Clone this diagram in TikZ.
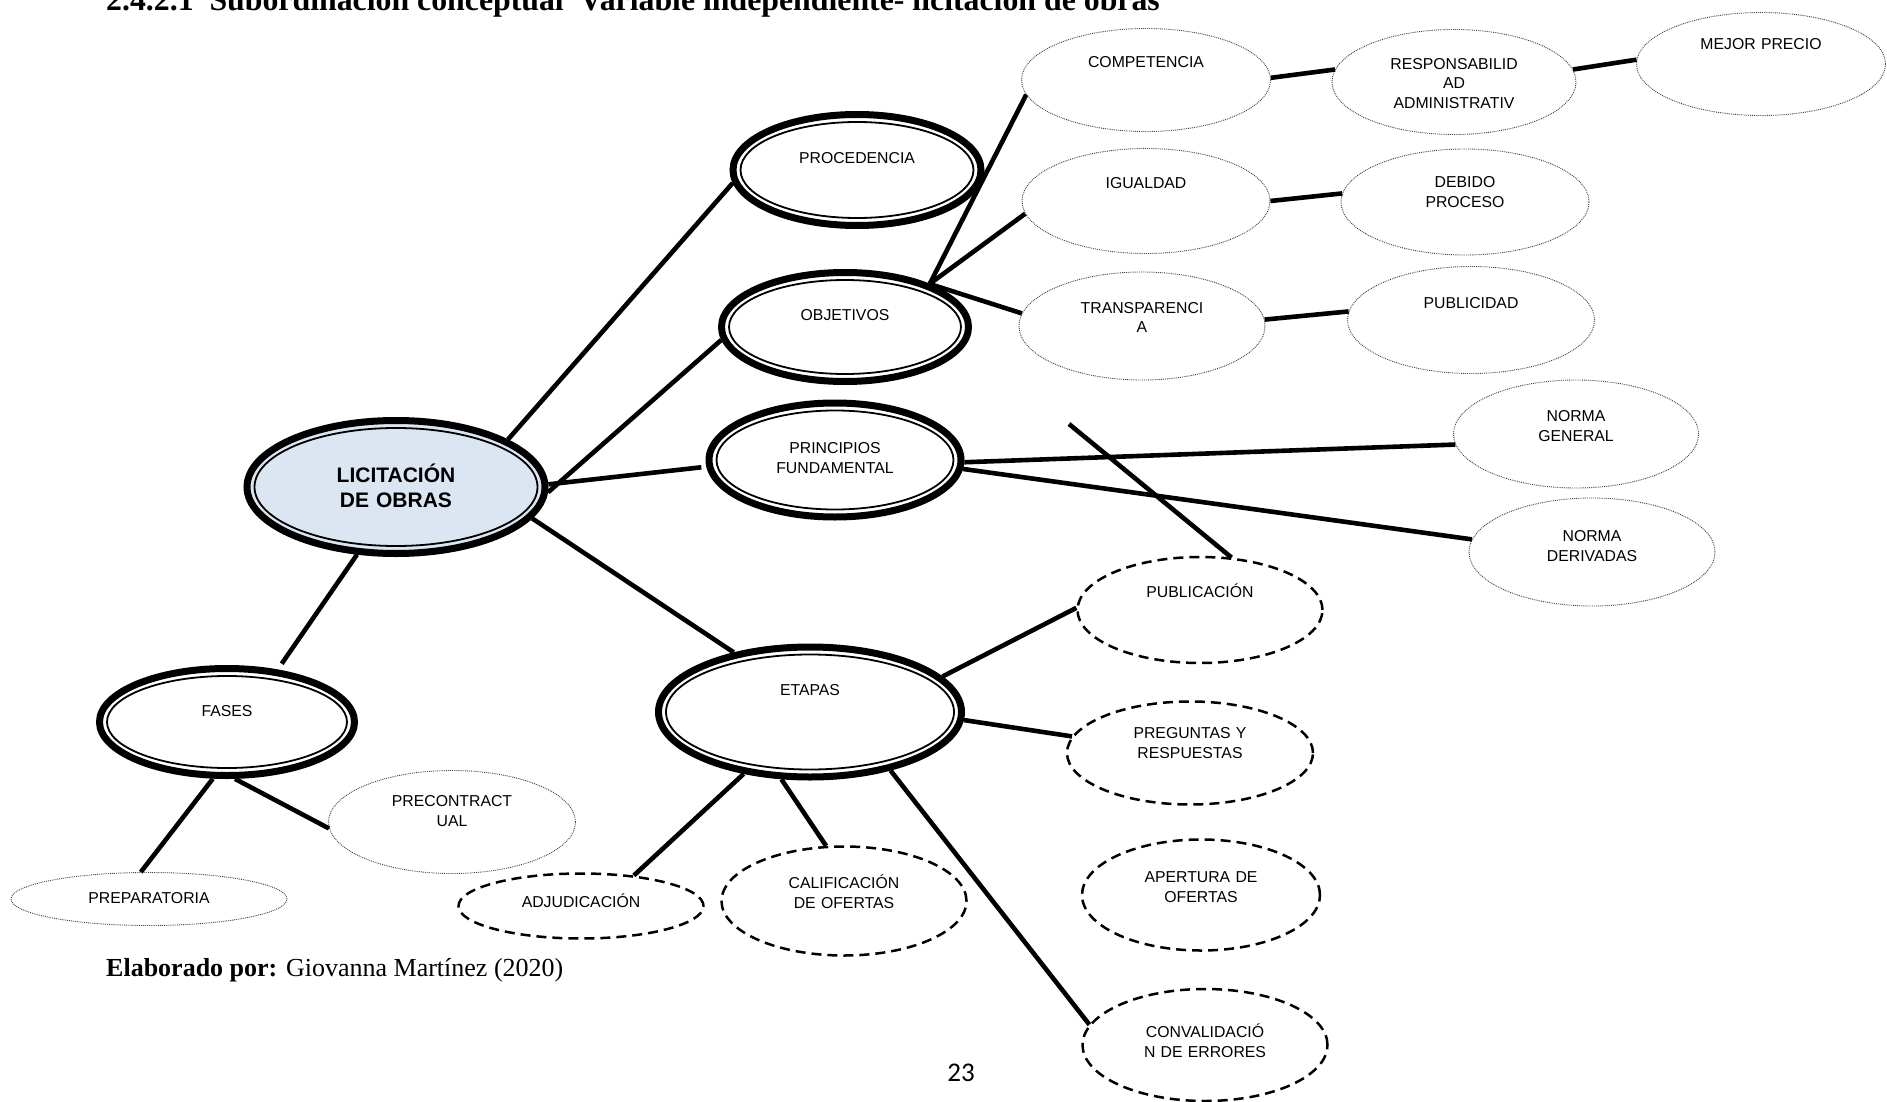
\documentclass[tikz,border=0pt]{standalone}
\usepackage{fontspec}
\setmainfont{Liberation Serif}
\newfontfamily\arialfont{Liberation Sans}
\newfontfamily\calibrifont{Carlito}
\usepackage{xcolor}
\usetikzlibrary{shapes.geometric,calc}
\definecolor{licfill}{HTML}{DCE6F2}

\begin{document}
\begin{tikzpicture}[x=1pt, y=-1pt,
  elip/.style={ellipse, align=center, inner sep=0pt, text width=160pt,
    font=\arialfont\fontsize{15.8}{19.5}\selectfont, text height=11.3pt, text depth=37pt},
  doble/.style={elip, draw, line width=7pt, fill=white, text depth=24pt,
    path picture={\draw[line width=1.8pt] let \p1=(path picture bounding box.north east),
      \p2=(path picture bounding box.center) in
      (\p2) ellipse [x radius=\x1-\x2-7.5pt, y radius=\y1-\y2-7.5pt];}},
  punteado/.style={elip, draw=black!75, densely dotted, line width=0.9pt},
  guiones/.style={elip, draw, line width=2.5pt, dash pattern=on 10pt off 6pt},
  linea/.style={line width=4.6pt}]
  \useasboundingbox (0,0) rectangle (1887,1102);

  % titulo y pie
  \node[anchor=base west, inner sep=0pt, font=\bfseries\fontsize{31.8}{36}\selectfont] (titulo) at (106,11)
      {2.4.2.1\ \ Subordinación conceptual\ \ Variable independiente- licitación de obras};
  \node[anchor=base west, inner sep=0pt, font=\fontsize{26}{30}\selectfont] (autor) at (106,976)
      {\textbf{Elaborado por:} Giovanna Martínez (2020)};
  \node[anchor=base, font=\calibrifont\fontsize{27}{30}\selectfont] (pagina) at (961,1081) {23};

  % nodo central y ramas principales
  \node[doble, fill=licfill, minimum width=298pt, minimum height=133pt,
        font=\arialfont\bfseries\fontsize{21}{25}\selectfont, text height=15.1pt, text depth=25pt]
      (lic) at (396,487) {LICITACIÓN\\DE OBRAS};
  \node[doble, minimum width=248pt, minimum height=111pt] (proc) at (857,170) {PROCEDENCIA};
  \node[doble, minimum width=247pt, minimum height=109pt] (obj) at (845,327) {OBJETIVOS};
  \node[doble, minimum width=252pt, minimum height=114pt] (prin) at (835,460) {PRINCIPIOS\\FUNDAMENTAL};
  \node[doble, minimum width=303pt, minimum height=130pt, text depth=44pt] (etapas) at (810,712) {ETAPAS};
  \node[doble, minimum width=255pt, minimum height=107pt, text depth=22pt] (fases) at (227,722) {FASES};

  % objetivos
  \node[punteado, minimum width=249pt, minimum height=103pt] (comp) at (1146,80) {COMPETENCIA};
  \node[punteado, minimum width=244pt, minimum height=105pt] (resp) at (1454,82) {RESPONSABILID\\AD\\ADMINISTRATIV};
  \node[punteado, minimum width=249pt, minimum height=103pt, text depth=40pt] (mejor) at (1761,64) {MEJOR PRECIO};
  \node[punteado, minimum width=248pt, minimum height=105pt] (igual) at (1146,201) {IGUALDAD};
  \node[punteado, minimum width=248pt, minimum height=106pt, text depth=39.5pt] (debido) at (1465,202) {DEBIDO\\PROCESO};
  \node[punteado, minimum width=246pt, minimum height=108pt] (transp) at (1142,326) {TRANSPARENCI\\A};
  \node[punteado, minimum width=247pt, minimum height=107pt, text depth=34pt] (public) at (1471,320) {PUBLICIDAD};

  % principios
  \node[punteado, minimum width=245pt, minimum height=108pt, text depth=35.5pt] (normag) at (1576,434) {NORMA\\GENERAL};
  \node[punteado, minimum width=246pt, minimum height=108pt, text depth=31.5pt] (normad) at (1592,552) {NORMA\\DERIVADAS};

  % fases
  \node[punteado, minimum width=247pt, minimum height=103pt, text depth=41.5pt] (precon) at (452,822) {PRECONTRACT\\UAL};
  \node[punteado, minimum width=276pt, minimum height=53pt, text depth=2.5pt] (prep) at (149,899) {PREPARATORIA};

  % etapas
  \node[guiones, minimum width=245pt, minimum height=106pt, text depth=36pt] (publicacion) at (1200,610) {PUBLICACIÓN};
  \node[guiones, minimum width=246pt, minimum height=103pt, text depth=39.5pt] (preg) at (1190,753) {PREGUNTAS Y\\RESPUESTAS};
  \node[guiones, minimum width=238pt, minimum height=111pt, text depth=35.5pt] (apert) at (1201,895) {APERTURA DE\\OFERTAS};
  \node[guiones, minimum width=245pt, minimum height=112pt, text depth=25.5pt] (conval) at (1205,1045) {CONVALIDACIÓ\\N DE ERRORES};
  \node[guiones, minimum width=245pt, minimum height=109pt, text depth=35.5pt] (calif) at (844,901) {CALIFICACIÓN\\DE OFERTAS};
  \node[guiones, minimum width=245pt, minimum height=65pt, text depth=8pt] (adjud) at (581,906) {ADJUDICACIÓN};

  \coordinate (libre) at (1069,424);

  % conectores
  \draw[linea] (lic.23) -- (proc.186);
  \draw[linea] (lic.358) -- (obj.186);
  \draw[linea, shorten >=5pt] (lic.1) -- (prin.183);
  \draw[linea] (lic.347) -- (etapas.142);
  \draw[linea, shorten >=7pt] (lic.240) -- (fases.46);
  \draw[linea] (obj.27) -- (comp.187);
  \draw[linea] (obj.27) -- (igual.186);
  \draw[linea] (obj.26) -- (transp.174);
  \draw[linea] (comp.1) -- (resp.174);
  \draw[linea] (resp.6) -- (mejor.178);
  \draw[linea] (igual.0) -- (debido.176);
  \draw[linea] (transp.3) -- (public.176);
  \draw[linea] (prin.359) -- (normag.185);
  \draw[linea] (prin.356) -- (normad.174);
  \draw[linea] (libre) -- (publicacion.59);
  \draw[linea] (etapas.15) -- (publicacion.179);
  \draw[linea] (etapas.357) -- (preg.172);
  \draw[linea] (etapas.324) -- (conval.170);
  \draw[linea] (etapas.247) -- (calif.108);
  \draw[linea] (etapas.223) -- (adjud.30);
  \draw[linea] (fases.278) -- (precon.183);
  \draw[linea] (fases.256) -- (prep.107);
\end{tikzpicture}
\end{document}
